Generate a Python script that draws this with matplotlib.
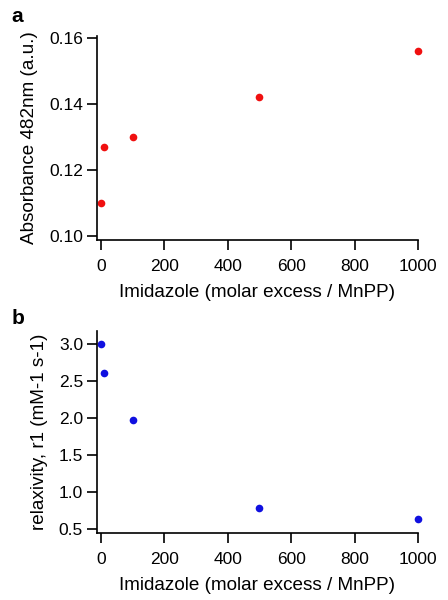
import matplotlib.pyplot as plt

plt.rcParams['font.family'] = ['Liberation Sans', 'DejaVu Sans']

# imidazole molar excess / MnPP
excess = [0, 10, 100, 500, 1000]
absorbance = [0.110, 0.127, 0.130, 0.142, 0.156]
relaxivity = [3.00, 2.61, 1.97, 0.78, 0.64]

xticks = [0, 200, 400, 600, 800, 1000]
abs_ticks = [0.10, 0.12, 0.14, 0.16]
rel_ticks = [0.5, 1.0, 1.5, 2.0, 2.5, 3.0]

fig = plt.figure(figsize=(4.48, 6.0), dpi=100)
ax1 = fig.add_axes([0.2165, 0.60, 0.7165, 0.34])
ax2 = fig.add_axes([0.2165, 0.1122, 0.7165, 0.3366])

def style(ax):
    for s in ['top', 'right']:
        ax.spines[s].set_visible(False)
    for s in ['left', 'bottom']:
        ax.spines[s].set_linewidth(1.2)
    ax.tick_params(direction='out', length=7, width=1.2, labelsize=12.5)
    ax.tick_params(axis='y', pad=3)
    ax.tick_params(axis='x', pad=7)
    ax.set_xlim(-12.5, 1000)
    ax.set_xticks(xticks)
    ax.set_xlabel('Imidazole (molar excess / MnPP)', fontsize=13.6, labelpad=7)

ax1.plot(excess, absorbance, 'o', color='#f01010', ms=5.5, mec='none', clip_on=False)
style(ax1)
ax1.set_ylim(0.0988, 0.1605)
ax1.set_yticks(abs_ticks)
ax1.set_yticklabels(['0.10', '0.12', '0.14', '0.16'])
ax1.set_ylabel('Absorbance 482nm (a.u.)', fontsize=13.6, labelpad=8)

ax2.plot(excess, relaxivity, 'o', color='#1010e0', ms=5.5, mec='none', clip_on=False)
style(ax2)
ax2.set_ylim(0.454, 3.175)
ax2.set_yticks(rel_ticks)
ax2.set_yticklabels(['0.5', '1.0', '1.5', '2.0', '2.5', '3.0'])
ax2.set_ylabel('relaxivity, r1 (mM-1 s-1)', fontsize=13.6, labelpad=8)

fig.text(0.025, 0.972, 'a', fontsize=15, fontweight='bold', va='center')
fig.text(0.025, 0.47, 'b', fontsize=15, fontweight='bold', va='center')

fig.savefig('out.png', dpi=100)
